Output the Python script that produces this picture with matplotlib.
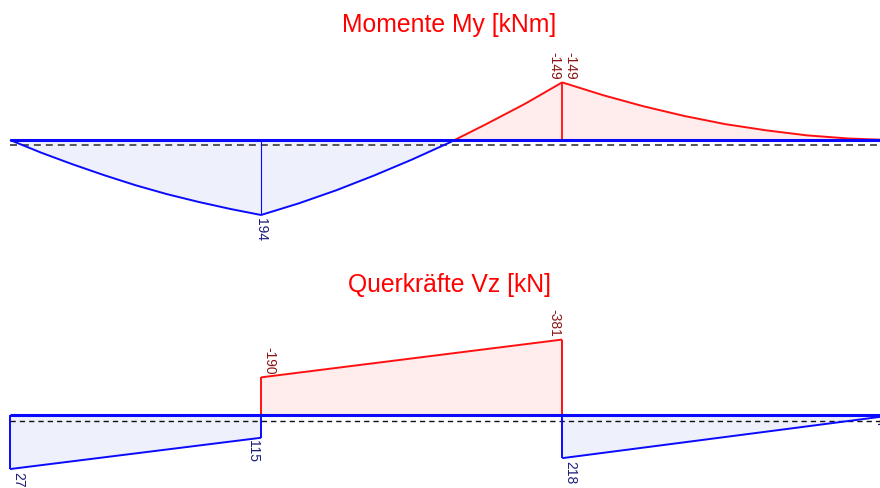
import matplotlib
matplotlib.use("Agg")
import matplotlib.pyplot as plt
from matplotlib.transforms import offset_copy

plt.rcParams['font.family'] = ['Liberation Sans', 'DejaVu Sans']
plt.rcParams['lines.scale_dashes'] = False

# Beam nodes along the member [m]
nodes = [0.0, 5.0, 11.0, 17.5]

# Bending moment My [kNm] at stations along each span
moment_x = [
    [0.0, 0.625, 1.25, 1.875, 2.5, 3.125, 3.75, 4.375, 5.0],
    [5.0, 5.75, 6.5, 7.25, 8.0, 8.75, 9.5, 10.25, 11.0],
    [11.0, 11.8125, 12.625, 13.4375, 14.25, 15.0625, 15.875, 16.6875, 17.5],
]
moment_values = [
    [0, 33, 63, 91, 117, 140, 160, 178, 194],
    [194, 164, 130, 92, 51, 7, -42, -93, -149],
    [-149, -116, -87, -62, -41, -25, -12, -4, 0],
]

# Shear force Vz [kN] at the ends of each span
shear_start = [273, -190, 218]
shear_end = [115, -381, 4]

# Value labels: (position, value, side)
moment_labels = [(5.0, 194, 0), (11.0, -149, -1), (11.0, -149, 1)]
shear_labels = [(0.0, 273, 1), (5.0, 115, -1), (5.0, -190, 1),
                (11.0, -381, -1), (11.0, 218, 1), (17.5, 4, -1)]

titles = ["Momente My [kNm]", "Querkräfte Vz [kN]"]

BLUE = "#0a0aff"
RED = "#ff1010"
BLUE_FILL = "#eef0fc"
RED_FILL = "#ffecec"
BLUE_TXT = "#1c1c7a"
RED_TXT = "#8c1414"

W, H = 880, 488
fig = plt.figure(figsize=(W / 100, H / 100), dpi=100)

px_per_m = 50.2
x0_px = 10


def make_axes(top_px, bot_px, beam_px, scale):
    ax = fig.add_axes([0, 1 - bot_px / H, 1, (bot_px - top_px) / H])
    ax.set_xlim(-x0_px / px_per_m, (W - x0_px) / px_per_m)
    # positive values are drawn downwards
    ax.set_ylim((bot_px - beam_px) / scale, (top_px - beam_px) / scale)
    ax.axis('off')
    return ax


def split_sign(xs, vs):
    """Split a polyline into runs of constant sign, inserting zero crossings."""
    runs = []
    cur_x, cur_v = [xs[0]], [vs[0]]
    for i in range(1, len(xs)):
        a, b = vs[i - 1], vs[i]
        if (a > 0 and b < 0) or (a < 0 and b > 0):
            xc = xs[i - 1] + (xs[i] - xs[i - 1]) * a / (a - b)
            cur_x.append(xc)
            cur_v.append(0)
            runs.append((cur_x, cur_v))
            cur_x, cur_v = [xc], [0]
        cur_x.append(xs[i])
        cur_v.append(vs[i])
    runs.append((cur_x, cur_v))
    return runs


def draw_curve(ax, xs, vs, lw=1.4):
    for rx, rv in split_sign(xs, vs):
        pos = sum(rv) >= 0
        ax.fill_between(rx, 0, rv, color=BLUE_FILL if pos else RED_FILL,
                        lw=0, zorder=1)
        ax.plot(rx, rv, color=BLUE if pos else RED, lw=lw, zorder=3,
                solid_capstyle='butt')


def draw_vertical(ax, x, v, lw=1.4):
    if v == 0:
        return
    ax.plot([x, x], [0, v], color=BLUE if v > 0 else RED, lw=lw, zorder=3,
            solid_capstyle='butt')


def draw_beam(ax, dash_px, dash_color, dash_lw, dash_pattern):
    ax.plot([nodes[0], nodes[-1]], [0, 0], color=BLUE, lw=2.2, zorder=4,
            solid_capstyle='butt')
    tr = offset_copy(ax.transData, fig=fig, x=0, y=-dash_px, units='dots')
    ax.plot([nodes[0], nodes[-1]], [0, 0], color=dash_color, lw=dash_lw,
            ls=(0, dash_pattern), transform=tr, zorder=2)


def draw_labels(ax, labels):
    for x, v, side in labels:
        pos = v > 0
        ax.annotate(str(v), xy=(x, v), xytext=(side * 5.8, -1.8 if pos else 2.0),
                    textcoords='offset points', rotation=270,
                    ha='center', va='top' if pos else 'bottom',
                    fontsize=10, color=BLUE_TXT if pos else RED_TXT,
                    annotation_clip=False, zorder=5)


# Moment diagram
axm = make_axes(40, 250, 140, 0.3866)
for xs, vs in zip(moment_x, moment_values):
    draw_curve(axm, xs, vs)
draw_vertical(axm, nodes[1], moment_values[0][-1], lw=0.8)
draw_vertical(axm, nodes[2], moment_values[1][-1], lw=1.3)
draw_beam(axm, 4.7, "#555555", 1.4, (5.0, 3.6))
draw_labels(axm, moment_labels)

# Shear diagram
axv = make_axes(300, 488, 415, 0.198)
for i in range(3):
    xa, xb = nodes[i], nodes[i + 1]
    draw_curve(axv, [xa, xb], [shear_start[i], shear_end[i]])
    draw_vertical(axv, xa, shear_start[i])
    draw_vertical(axv, xb, shear_end[i])
draw_beam(axv, 5.7, "#111111", 1.0, (3.8, 2.9))
draw_labels(axv, shear_labels)

fig.text(449 / W, 1 - 32 / H, titles[0], color="#ff0000", fontsize=17.8,
         ha='center', va='baseline')
fig.text(449 / W, 1 - 292 / H, titles[1], color="#ff0000", fontsize=17.8,
         ha='center', va='baseline')

fig.savefig("out.png", dpi=100, facecolor="white")
